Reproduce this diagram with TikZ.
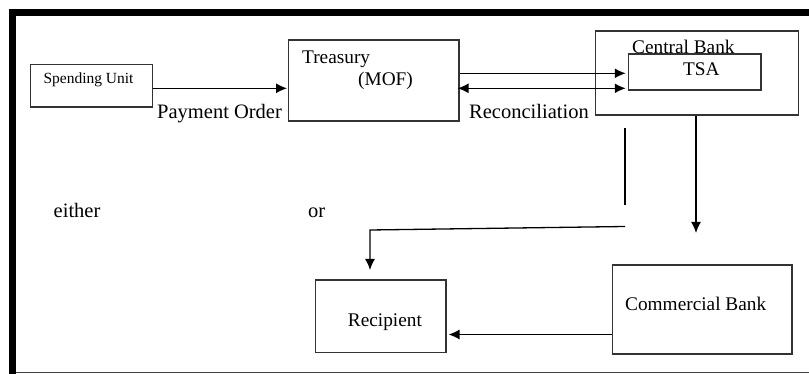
\documentclass[tikz,border=0pt]{standalone}
\usepackage{fontspec}
\setmainfont{Liberation Serif}
\usetikzlibrary{arrows.meta}
\begin{document}
\begin{tikzpicture}[x=1pt, y=-1pt,
    box/.style={draw=black!80, line width=1.2pt, inner sep=0pt},
    tip/.tip={Latex[length=11pt, width=10pt]},
    arr/.style={-tip, line width=1.3pt},
    txt/.style={anchor=base west, inner sep=0pt, font=\fontsize{19.3}{22}\selectfont},
    lbl/.style={anchor=base west, inner sep=0pt, font=\fontsize{20.5}{24}\selectfont}]
    \useasboundingbox (0,0) rectangle (809,374);
    \fill (9,9) rectangle (809,16.5);
    \fill (9,9) rectangle (16,374);
    \draw[black!75, line width=1.5pt] (16,372.5) -- (809,372.5);

    \node[box, minimum width=121.6, minimum height=42.7] (spend) at (91.5,85.7) {};
    \node[box, minimum width=170.3, minimum height=81] (treasury) at (373.8,80.5) {};
    \node[box, minimum width=202.6, minimum height=84] (central) at (697,73) {};
    \node[box, minimum width=132.7, minimum height=36] (tsa) at (694.7,72) {};
    \node[box, minimum width=130.3, minimum height=72.7] (recip) at (380.8,316.3) {};
    \node[box, minimum width=179.3, minimum height=89] (commb) at (702.3,309.5) {};

    \node[txt, font=\fontsize{15.5}{18}\selectfont] (spendtxt) at (43.3,84) {Spending Unit};
    \node[txt] (treasurytxt) at (302,63.5) {Treasury};
    \node[txt] (moftxt) at (358,86) {(MOF)};
    \node[txt] (centraltxt) at (632,53.5) {Central Bank};
    \node[txt] (tsatxt) at (683,75.5) {TSA};
    \node[txt] (reciptxt) at (347.7,326.7) {Recipient};
    \node[txt] (commbtxt) at (625,311) {Commercial Bank};
    \node[lbl] (payorder) at (157,118.3) {Payment Order};
    \node[lbl] (recon) at (469,118.3) {Reconciliation};
    \node[lbl] (either) at (53.5,217.5) {either};
    \node[lbl] (or) at (308,217.5) {or};

    \coordinate (ypay) at (0,88.3);
    \coordinate (ytop) at (0,73.3);
    \coordinate (ybot) at (0,88.3);
    \coordinate (ycb) at (0,334.5);
    \coordinate (orA) at (625,128);
    \coordinate (orB) at (625,205);
    \coordinate (orC) at (625,226.5);
    \coordinate (orD) at (370,230);
    \coordinate (orE) at (370,270);
    \coordinate (cbtip) at (696,233);

    \draw[arr] (spend.east |- ypay) -- ([xshift=-1]treasury.west |- ypay);
    \draw[arr] (treasury.east |- ytop) -- ([xshift=-2]tsa.west |- ytop);
    \draw[arr, tip-tip] ([xshift=-2]treasury.east |- ybot) -- ([xshift=-2]tsa.west |- ybot);
    \draw[line width=1.2pt] (orA) -- (orB);
    \draw[arr] (orC) -- (orD) -- (orE);
    \draw[arr] (central.south -| cbtip) -- (cbtip);
    \draw[arr] (commb.west |- ycb) -- ([xshift=2]recip.east |- ycb);
\end{tikzpicture}
\end{document}
